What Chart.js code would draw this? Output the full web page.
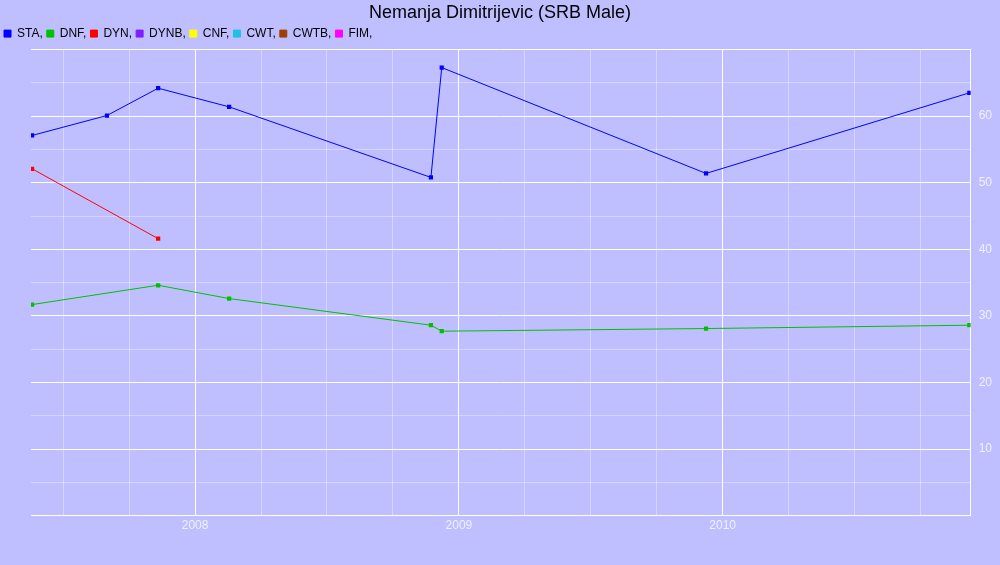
<!DOCTYPE html>
<html><head><meta charset="utf-8">
<script src="https://cdn.jsdelivr.net/npm/chart.js@4"></script>
<style>html,body{margin:0;padding:0;background:#bfbfff;}#w{width:1000px;height:565px;}</style>
</head><body><div id="w"><canvas id="c"></canvas></div>
<script>
const seriesNames = ["STA","DNF","DYN","DYNB","CNF","CWT","CWTB","FIM"];
const seriesColors = ["#0000ff","#00c000","#ff0000","#8020ff","#ffff00","#20c0e0","#a04000","#ff00ff"];
const staX = [2007.382,2007.666,2007.86,2008.129,2008.894,2008.935,2009.937,2010.935];
const staY = [57.1,60.1,64.2,61.4,50.8,67.3,51.4,63.5];
const dnfX = [2007.382,2007.86,2008.129,2008.894,2008.935,2009.937,2010.935];
const dnfY = [31.7,34.6,32.6,28.6,27.7,28.1,28.6];
const dynX = [2007.382,2007.86];
const dynY = [52.1,41.6];
const yTicks = [10,20,30,40,50,60];
const xYears = [2008,2009,2010];

const pts = (xs,ys)=>xs.map((x,i)=>({x:x,y:ys[i]}));
const dataMap = {STA:pts(staX,staY),DNF:pts(dnfX,dnfY),DYN:pts(dynX,dynY)};
const datasets = seriesNames.map((n,i)=>({
  label:n+",", data:dataMap[n]||[], borderColor:seriesColors[i], backgroundColor:seriesColors[i],
  borderWidth:1, pointStyle:'rect', pointRadius:3, pointBorderWidth:0, tension:0, yAxisID:'y'
}));
new Chart(document.getElementById('c'),{
  type:'line', data:{datasets},
  options:{responsive:true,maintainAspectRatio:false,animation:false,
    layout:{padding:{left:0,right:0,top:0,bottom:29}},
    plugins:{
      title:{display:true,text:"Nemanja Dimitrijevic (SRB Male)",color:"#000",font:{family:"Arial, Liberation Sans",size:18,weight:'normal'},padding:{top:2,bottom:0}},
      legend:{align:'start',labels:{boxWidth:7,boxHeight:7,padding:4,color:"#000",font:{family:"Arial, Liberation Sans",size:12}}},
      tooltip:{enabled:false}
    },
    scales:{
      x:{type:'linear',min:2007.378,max:2010.94,
        afterBuildTicks:(s)=>{const t=[];for(let v=2007.5;v<2011;v+=0.25)t.push({value:v});s.ticks=t;},
        ticks:{color:"#f0f0ff",font:{family:"Arial, Liberation Sans",size:12},autoSkip:false,maxRotation:0,
          callback:(v)=>xYears.includes(Math.round(v*100)/100)?String(Math.round(v)):""},
        grid:{color:(c)=>{const v=c.tick&&c.tick.value;return (v!==undefined&&Math.abs(v-Math.round(v))<0.01)?"#ffffff":"rgba(255,255,255,0.35)";},drawTicks:false},
        border:{color:"#ffffff"}},
      yl:{position:'left',min:0,max:70,display:true,ticks:{display:false},grid:{display:false},border:{display:false},
        afterFit:(s)=>{s.width=31;}},
      y:{position:'right',min:0,max:70,
        afterBuildTicks:(s)=>{const t=[];for(let v=0;v<=70;v+=5)t.push({value:v});s.ticks=t;},
        ticks:{color:"#f0f0ff",font:{family:"Arial, Liberation Sans",size:12},padding:8,
          callback:(v)=>yTicks.includes(v)?String(v):""},
        grid:{color:(c)=>{const v=c.tick&&c.tick.value;return (v%10===0)?"#ffffff":"rgba(255,255,255,0.35)";},drawTicks:false},
        border:{color:"#ffffff"}}
    }}
});
</script></body></html>
